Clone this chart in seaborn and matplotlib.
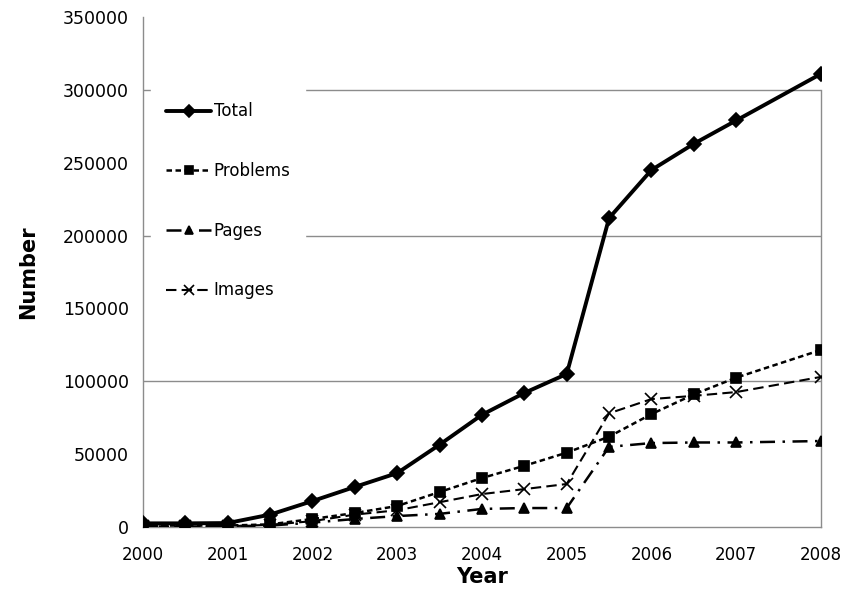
import matplotlib
matplotlib.use("Agg")
import matplotlib.pyplot as plt
import pandas as pd
import seaborn as sns

years = [2000, 2000.5, 2001, 2001.5, 2002, 2002.5, 2003, 2003.5,
         2004, 2004.5, 2005, 2005.5, 2006, 2006.5, 2007, 2008]
total = [2500, 2500, 2700, 8500, 17800, 27500, 37000, 56500,
         77000, 92000, 105000, 212000, 245000, 263000, 279000, 311000]
problems = [1000, 1000, 1000, 1800, 5500, 9600, 14400, 24000,
            33600, 42000, 51000, 62000, 77500, 91000, 102500, 121500]
pages = [500, 500, 500, 1000, 3000, 5500, 7500, 9000,
         12400, 13000, 13000, 55000, 57600, 58000, 58000, 59000]
images = [500, 500, 500, 1500, 4000, 8500, 11500, 17000,
          22600, 26000, 29500, 78000, 87800, 90000, 92600, 103000]
year_ticks = [2000, 2001, 2002, 2003, 2004, 2005, 2006, 2007, 2008]
y_ticks = [0, 50000, 100000, 150000, 200000, 250000, 300000, 350000]

df = pd.DataFrame({"Year": years, "Total": total, "Problems": problems,
                   "Pages": pages, "Images": images})

sns.set_style("white")
plt.rcParams["font.family"] = ["DejaVu Sans"]
plt.rcParams["text.color"] = "black"
plt.rcParams["axes.labelcolor"] = "black"
plt.rcParams["xtick.color"] = "black"
plt.rcParams["ytick.color"] = "black"

fig = plt.figure(figsize=(8.48, 5.95), dpi=100)
ax = fig.add_axes([0.1686, 0.1143, 0.7995, 0.8571])

# ── Series styles ─────────────────────────────────────────────────────────────
styles = {
    "Total":    dict(marker="D", markersize=7.5, lw=2.8, linestyle="-"),
    "Problems": dict(marker="s", markersize=7, lw=1.8, linestyle=(0, (2.2, 1.4))),
    "Pages":    dict(marker="^", markersize=7, lw=1.8, linestyle=(0, (6, 3, 1, 3))),
    "Images":   dict(marker="x", markersize=8, lw=1.5, linestyle=(0, (5, 2.5))),
}
for name, st in styles.items():
    sns.lineplot(data=df, x="Year", y=name, ax=ax, color="black", label=name,
                 marker=st["marker"], markersize=st["markersize"],
                 markeredgecolor="black", markeredgewidth=1.2,
                 linewidth=st["lw"], linestyle=st["linestyle"], zorder=3)

ax.set_xlim(2000, 2008)
ax.set_ylim(0, 350000)
ax.set_xticks(year_ticks)
ax.set_xticklabels([str(y) for y in year_ticks], fontsize=12)
ax.set_yticks(y_ticks)
ax.set_yticklabels([str(v) for v in y_ticks], fontsize=12.5)
for v in [100000, 200000, 300000]:
    ax.axhline(v, color="#8c8c8c", lw=1.0, zorder=1)

ax.tick_params(axis="x", direction="out", length=5, color="#8c8c8c", pad=9)
ax.tick_params(axis="y", direction="out", length=5, color="#8c8c8c", pad=5)
ax.spines["top"].set_visible(False)
for s in ["left", "bottom", "right"]:
    ax.spines[s].set_color("#8c8c8c")
    ax.spines[s].set_linewidth(1.0)
ax.spines["right"].set_bounds(0, 300000)

ax.set_xlabel("Year", fontsize=15, fontweight="bold", labelpad=2)
ax.set_ylabel("Number", fontsize=15, fontweight="bold", labelpad=18)

leg = ax.legend(loc="upper left", bbox_to_anchor=(0.012, 0.862), fontsize=12,
                frameon=True, fancybox=False, labelspacing=2.5,
                handlelength=2.7, handletextpad=0.15, borderpad=0.9,
                borderaxespad=0, markerscale=0.85)
leg.get_frame().set_facecolor("white")
leg.get_frame().set_edgecolor("white")
leg.get_frame().set_alpha(1)
leg.set_zorder(2)

fig.savefig("out.png", dpi=100)
